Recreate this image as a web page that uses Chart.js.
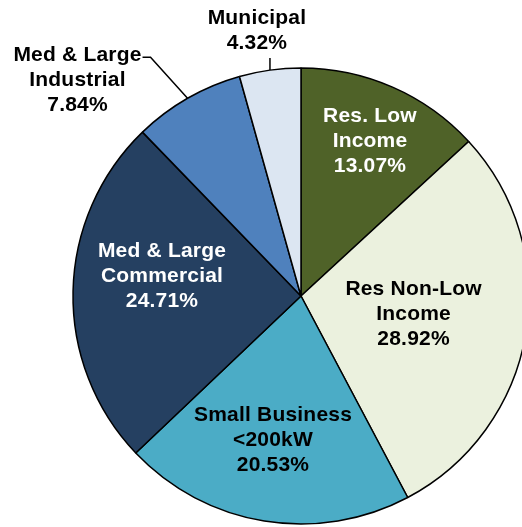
<!DOCTYPE html>
<html>
<head>
<meta charset="utf-8">
<script src="https://cdn.jsdelivr.net/npm/chart.js@4"></script>
<style>
  html, body { margin: 0; padding: 0; background: #fff; overflow: hidden; }
  #wrap { width: 602px; height: 527px; }
</style>
</head>
<body>
<div id="wrap"><canvas id="pie" width="602" height="527"></canvas></div>
<script>
// share of participation by customer class
const categories = [
  ["Res. Low", "Income"],
  ["Res Non-Low", "Income"],
  ["Small Business", "<200kW"],
  ["Med & Large", "Commercial"],
  ["Med & Large", "Industrial"],
  ["Municipal"]
];
const shares = [13.07, 28.92, 20.53, 24.71, 7.84, 4.32];
const colors = ["#4F6228", "#EBF1DE", "#4BACC6", "#254061", "#4F81BD", "#DCE6F2"];
const textColors = ["#fff", "#000", "#000", "#fff", "#000", "#000"];

// label placement: inside (fraction of radius + angle nudge) or outside with a leader
const labelPos = [
  { r: 0.745, da: 0.3 },
  { r: 0.5, da: -0.6 },
  { r: 0.645, da: 1.7 },
  { r: 0.616, da: 7 },
  { leader: [[-37, -41], [-8, 0]], text: [-73, 23] },
  { leader: [[0, -12]], text: [-13, -27] }
];

const FONT = "bold 21px 'Liberation Sans', Arial, sans-serif";
const LINE_H = 25;

const labelPlugin = {
  id: "sliceLabels",
  afterDraw(chart) {
    const ctx = chart.ctx;
    const arcs = chart.getDatasetMeta(0).data;
    ctx.save();
    ctx.font = FONT;
    ctx.letterSpacing = "0.2px";
    ctx.textAlign = "center";
    ctx.textBaseline = "middle";
    arcs.forEach((arc, i) => {
      const { x, y, startAngle, endAngle, outerRadius } = arc.getProps(["x", "y", "startAngle", "endAngle", "outerRadius"], true);
      const mid = (startAngle + endAngle) / 2;
      const pos = labelPos[i];
      const lines = categories[i].concat([shares[i].toFixed(2) + "%"]);
      let cx, cy;
      if (pos.leader) {
        let px = x + Math.cos(mid) * outerRadius;
        let py = y + Math.sin(mid) * outerRadius;
        ctx.beginPath();
        ctx.moveTo(px, py);
        pos.leader.forEach(([dx, dy]) => {
          px += dx; py += dy;
          ctx.lineTo(px, py);
        });
        ctx.strokeStyle = "#000";
        ctx.lineWidth = 1.5;
        ctx.stroke();
        if (pos.leader.length > 1) {
          // text hangs off the elbow, not the end of the tail
          const last = pos.leader[pos.leader.length - 1];
          px -= last[0]; py -= last[1];
        }
        cx = px + pos.text[0];
        cy = py + pos.text[1];
      } else {
        const a = mid + pos.da * Math.PI / 180;
        cx = x + Math.cos(a) * outerRadius * pos.r;
        cy = y + Math.sin(a) * outerRadius * pos.r;
      }
      ctx.fillStyle = textColors[i];
      const top = cy - (lines.length - 1) * LINE_H / 2;
      lines.forEach((t, k) => ctx.fillText(t, cx, top + k * LINE_H));
    });
    ctx.restore();
  }
};

new Chart(document.getElementById("pie"), {
  type: "pie",
  data: {
    labels: categories.map(c => c.join(" ")),
    datasets: [{
      data: shares,
      backgroundColor: colors,
      borderColor: "#000",
      borderWidth: 1.5
    }]
  },
  options: {
    responsive: false,
    animation: false,
    radius: 228,
    layout: { padding: { top: 68, bottom: 3, left: 0, right: 0 } },
    plugins: {
      legend: { display: false },
      tooltip: { enabled: false }
    }
  },
  plugins: [labelPlugin]
});
</script>
</body>
</html>
